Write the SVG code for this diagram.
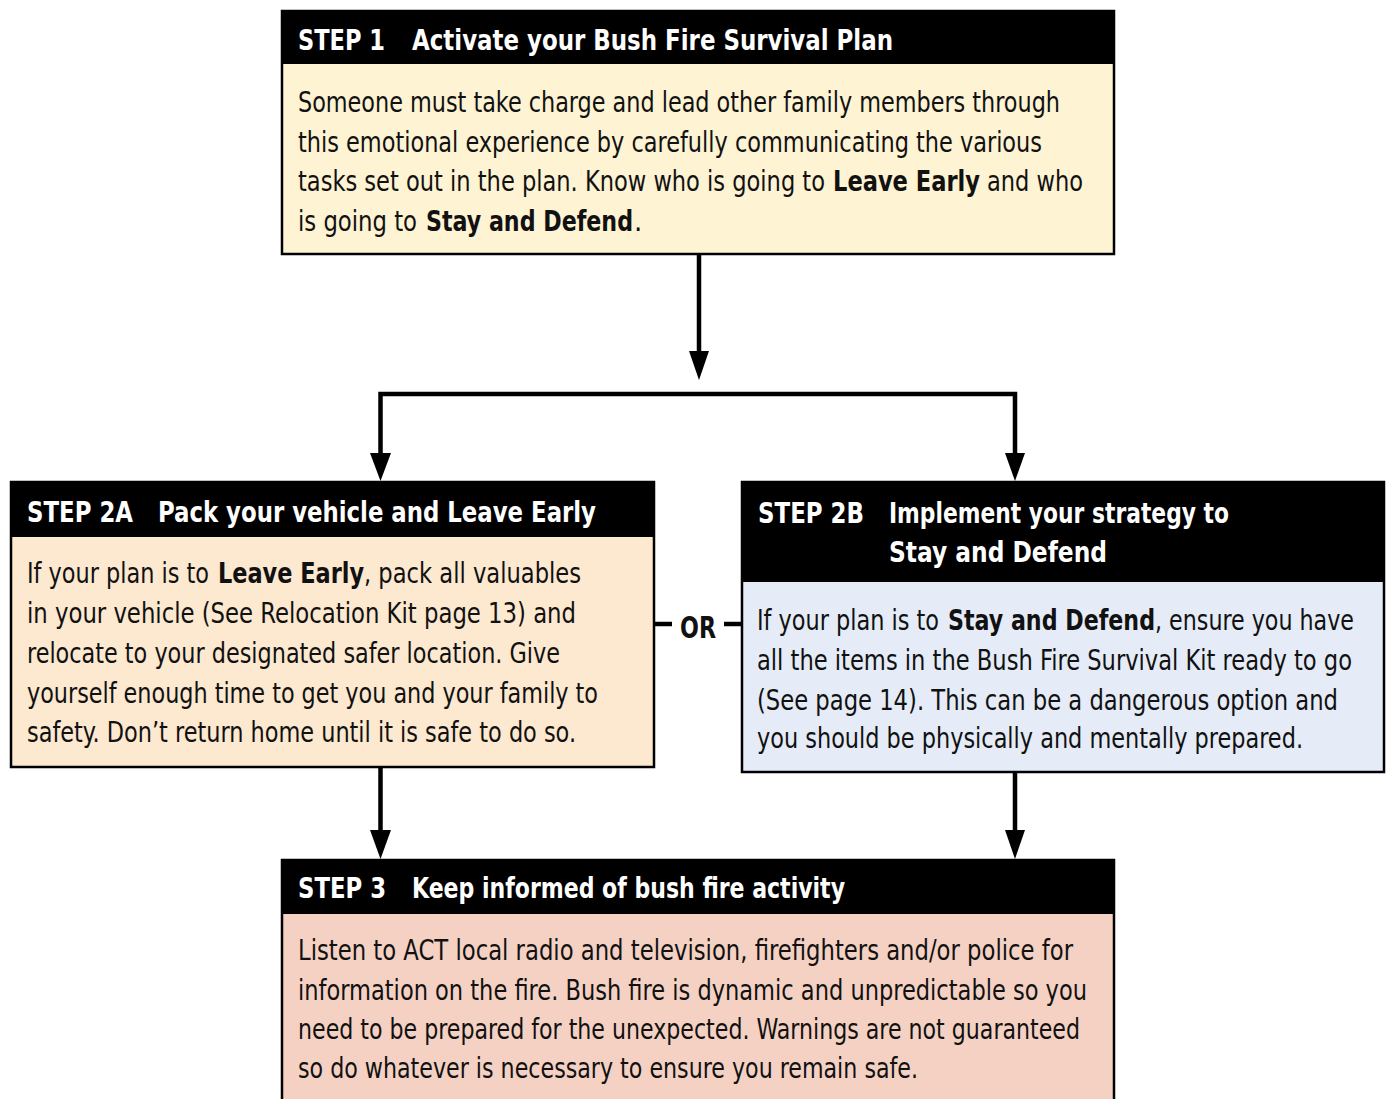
<svg xmlns="http://www.w3.org/2000/svg" width="1390" height="1099" viewBox="0 0 1390 1099">
<style>
  .frame{stroke:#000;stroke-width:2.5}
  .hdr{fill:#000}
  .ht{font-family:"Liberation Sans Narrow","DejaVu Sans Condensed","Liberation Sans",sans-serif;font-stretch:condensed;font-weight:bold;font-size:29px;fill:#fff}
  .bt{font-family:"Liberation Sans Narrow","DejaVu Sans Condensed","Liberation Sans",sans-serif;font-stretch:condensed;font-size:29px;fill:#111}
  .b{font-weight:bold}
  .or{font-family:"Liberation Sans Narrow","DejaVu Sans Condensed","Liberation Sans",sans-serif;font-stretch:condensed;font-weight:bold;font-size:31px;fill:#111}
  .ln{stroke:#000;stroke-width:4.5;fill:none}
  .ah{fill:#000}
</style>

<g id="connectors">
  <line class="ln" x1="699" y1="255" x2="699" y2="352"/>
  <path class="ah" d="M689,351 L709,351 L699,380 Z"/>
  <path class="ln" d="M380.5,455 L380.5,394 L1015,394 L1015,455"/>
  <path class="ah" d="M370,453 L391,453 L380.5,481 Z"/>
  <path class="ah" d="M1005,453 L1025,453 L1015,481 Z"/>
  <line class="ln" x1="380.5" y1="768" x2="380.5" y2="832"/>
  <path class="ah" d="M370,830 L391,830 L380.5,859 Z"/>
  <line class="ln" x1="1015" y1="773" x2="1015" y2="832"/>
  <path class="ah" d="M1005,830 L1025,830 L1015,859 Z"/>
  <line class="ln" x1="655" y1="624" x2="672" y2="624"/>
  <line class="ln" x1="724" y1="624" x2="741" y2="624"/>
  <text class="or" x="680" y="638" textLength="36" lengthAdjust="spacingAndGlyphs">OR</text>
</g>

<g id="step1">
  <rect class="frame" x="282" y="11" width="832" height="243" fill="#fef3d3"/>
  <rect class="hdr" x="282" y="11" width="832" height="53"/>
  <text class="ht" x="298" y="50" textLength="87" lengthAdjust="spacingAndGlyphs">STEP 1</text>
  <text class="ht" x="412" y="50" textLength="481" lengthAdjust="spacingAndGlyphs">Activate your Bush Fire Survival Plan</text>
  <text class="bt" x="298" y="112" textLength="762" lengthAdjust="spacingAndGlyphs">Someone must take charge and lead other family members through</text>
  <text class="bt" x="298" y="152" textLength="744" lengthAdjust="spacingAndGlyphs">this emotional experience by carefully communicating the various</text>
  <text class="bt" x="298" y="191" textLength="527" lengthAdjust="spacingAndGlyphs">tasks set out in the plan. Know who is going to</text>
  <text class="bt b" x="833" y="191" textLength="147" lengthAdjust="spacingAndGlyphs">Leave Early</text>
  <text class="bt" x="987" y="191" textLength="96" lengthAdjust="spacingAndGlyphs">and who</text>
  <text class="bt" x="298" y="231" textLength="119" lengthAdjust="spacingAndGlyphs">is going to</text>
  <text class="bt b" x="426" y="231" textLength="207" lengthAdjust="spacingAndGlyphs">Stay and Defend</text>
  <text class="bt" x="634" y="231">.</text>
</g>

<g id="step2a">
  <rect class="frame" x="11" y="482" width="643" height="285" fill="#fde8d0"/>
  <rect class="hdr" x="11" y="482" width="643" height="55"/>
  <text class="ht" x="27" y="522" textLength="106" lengthAdjust="spacingAndGlyphs">STEP 2A</text>
  <text class="ht" x="158" y="522" textLength="438" lengthAdjust="spacingAndGlyphs">Pack your vehicle and Leave Early</text>
  <text class="bt" x="27" y="583" textLength="182" lengthAdjust="spacingAndGlyphs">If your plan is to</text>
  <text class="bt b" x="218" y="583" textLength="146" lengthAdjust="spacingAndGlyphs">Leave Early</text>
  <text class="bt" x="364" y="583" textLength="217" lengthAdjust="spacingAndGlyphs">, pack all valuables</text>
  <text class="bt" x="27" y="623" textLength="549" lengthAdjust="spacingAndGlyphs">in your vehicle (See Relocation Kit page 13) and</text>
  <text class="bt" x="27" y="663" textLength="533" lengthAdjust="spacingAndGlyphs">relocate to your designated safer location. Give</text>
  <text class="bt" x="27" y="703" textLength="571" lengthAdjust="spacingAndGlyphs">yourself enough time to get you and your family to</text>
  <text class="bt" x="27" y="742" textLength="549" lengthAdjust="spacingAndGlyphs">safety. Don’t return home until it is safe to do so.</text>
</g>

<g id="step2b">
  <rect class="frame" x="742" y="482" width="642" height="290" fill="#e5ecf7"/>
  <rect class="hdr" x="742" y="482" width="642" height="100"/>
  <text class="ht" x="758" y="523" textLength="106" lengthAdjust="spacingAndGlyphs">STEP 2B</text>
  <text class="ht" x="889" y="523" textLength="340" lengthAdjust="spacingAndGlyphs">Implement your strategy to</text>
  <text class="ht" x="889" y="562" textLength="218" lengthAdjust="spacingAndGlyphs">Stay and Defend</text>
  <text class="bt" x="757" y="630" textLength="182" lengthAdjust="spacingAndGlyphs">If your plan is to</text>
  <text class="bt b" x="948" y="630" textLength="207" lengthAdjust="spacingAndGlyphs">Stay and Defend</text>
  <text class="bt" x="1155" y="630" textLength="199" lengthAdjust="spacingAndGlyphs">, ensure you have</text>
  <text class="bt" x="757" y="670" textLength="595" lengthAdjust="spacingAndGlyphs">all the items in the Bush Fire Survival Kit ready to go</text>
  <text class="bt" x="757" y="710" textLength="581" lengthAdjust="spacingAndGlyphs">(See page 14). This can be a dangerous option and</text>
  <text class="bt" x="757" y="748" textLength="546" lengthAdjust="spacingAndGlyphs">you should be physically and mentally prepared.</text>
</g>

<g id="step3">
  <rect class="frame" x="282" y="860" width="832" height="260" fill="#f5d1c4"/>
  <rect class="hdr" x="282" y="860" width="832" height="54"/>
  <text class="ht" x="298" y="898" textLength="88" lengthAdjust="spacingAndGlyphs">STEP 3</text>
  <text class="ht" x="412" y="898" textLength="433" lengthAdjust="spacingAndGlyphs">Keep informed of bush fire activity</text>
  <text class="bt" x="298" y="960" textLength="775" lengthAdjust="spacingAndGlyphs">Listen to ACT local radio and television, firefighters and/or police for</text>
  <text class="bt" x="298" y="1000" textLength="789" lengthAdjust="spacingAndGlyphs">information on the fire. Bush fire is dynamic and unpredictable so you</text>
  <text class="bt" x="298" y="1039" textLength="782" lengthAdjust="spacingAndGlyphs">need to be prepared for the unexpected. Warnings are not guaranteed</text>
  <text class="bt" x="298" y="1078" textLength="620" lengthAdjust="spacingAndGlyphs">so do whatever is necessary to ensure you remain safe.</text>
</g>
</svg>
